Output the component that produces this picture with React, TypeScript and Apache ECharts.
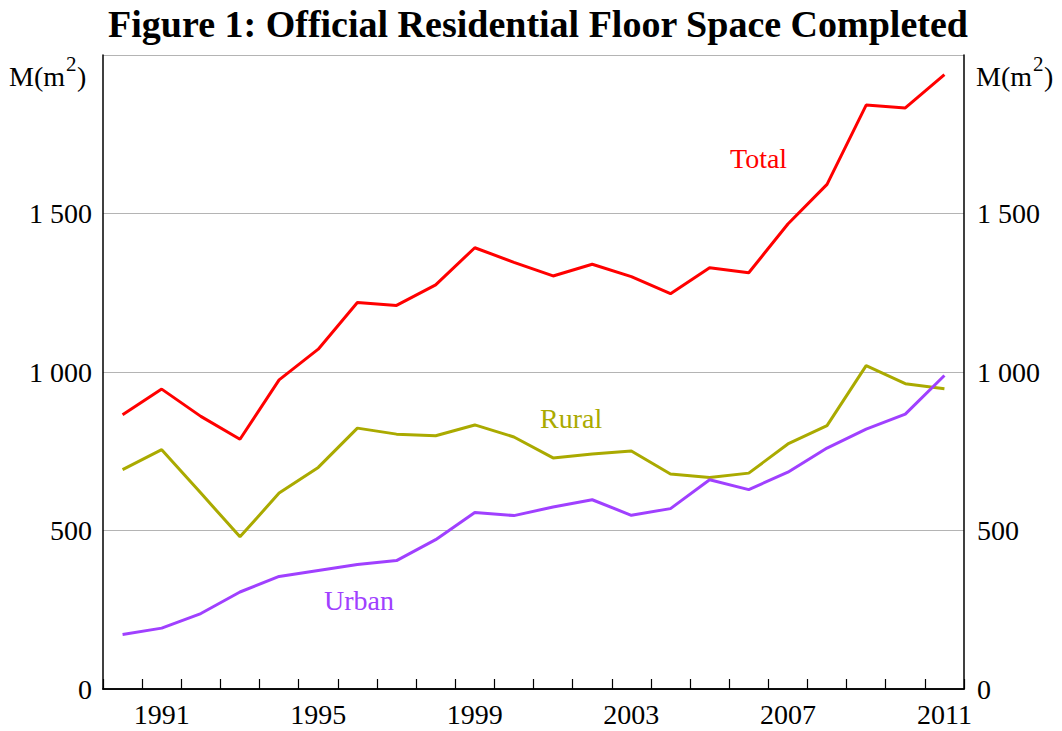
import React, { useEffect, useRef } from "react";
import * as echarts from "echarts";

const years = [
  "1990", "1991", "1992", "1993", "1994", "1995", "1996", "1997", "1998", "1999", "2000",
  "2001", "2002", "2003", "2004", "2005", "2006", "2007", "2008", "2009", "2010", "2011",
];
const total = [865, 946, 860, 788, 975, 1072, 1219, 1210, 1275, 1392, 1346, 1303, 1340, 1301, 1247, 1329, 1313, 1467, 1592, 1842, 1833, 1938];
const rural = [692, 755, 618, 480, 618, 699, 823, 804, 799, 833, 795, 729, 741, 751, 678, 667, 681, 773, 831, 1020, 963, 947];
const urban = [172, 192, 238, 306, 355, 374, 393, 405, 471, 557, 547, 574, 597, 548, 569, 660, 629, 684, 760, 820, 867, 989];

const FONT = "'Liberation Serif', 'Times New Roman', serif";

const fmt = (v: number) => {
  const s = String(Math.round(v));
  return s.length > 3 ? s.slice(0, s.length - 3) + " " + s.slice(-3) : s;
};

const unitTexts = (x0: number) => [
  { type: "text", x: x0, y: 76, style: { text: "M(m", fontFamily: FONT, fontSize: 28, fill: "#000", align: "left", verticalAlign: "middle" } },
  { type: "text", x: x0 + 57, y: 64, style: { text: "2", fontFamily: FONT, fontSize: 21, fill: "#000", align: "left", verticalAlign: "middle" } },
  { type: "text", x: x0 + 68, y: 76, style: { text: ")", fontFamily: FONT, fontSize: 28, fill: "#000", align: "left", verticalAlign: "middle" } },
];

export default function App() {
  const ref = useRef<HTMLDivElement>(null);
  useEffect(() => {
    if (!ref.current) return;
    const chart = echarts.init(ref.current, undefined, { renderer: "svg" });
    chart.setOption({
      animation: false,
      backgroundColor: "#fff",
      title: {
        text: "Figure 1: Official Residential Floor Space Completed",
        left: 533,
        textAlign: "center",
        top: 0,
        textStyle: { fontFamily: FONT, fontSize: 38, fontWeight: "bold", color: "#000" },
      },
      grid: { left: 103, right: 98, top: 55, bottom: 42, containLabel: false },
      xAxis: [
        {
          type: "category",
          data: years,
          boundaryGap: true,
          axisLine: { show: true, lineStyle: { color: "#000", width: 1.5 } },
          axisTick: { show: true, inside: true, length: 10, interval: 0, lineStyle: { color: "#000", width: 1.2 } },
          axisLabel: {
            interval: (index: number) => (index - 1) % 4 === 0,
            fontFamily: FONT,
            fontSize: 28,
            color: "#000",
            margin: 11,
          },
          splitLine: { show: false },
        },
        {
          type: "category",
          data: years,
          position: "top",
          boundaryGap: true,
          axisLine: { show: true, lineStyle: { color: "#000", width: 1.5 } },
          axisTick: { show: false },
          axisLabel: { show: false },
        },
      ],
      yAxis: [
        {
          type: "value",
          min: 0,
          max: 2000,
          interval: 500,
          position: "left",
          axisLine: { show: true, lineStyle: { color: "#000", width: 1.5 } },
          axisTick: { show: false },
          axisLabel: { formatter: (v: number) => (v === 2000 ? "" : fmt(v)), fontFamily: FONT, fontSize: 28, color: "#000", margin: 11 },
          splitLine: { show: true, lineStyle: { color: "#b4b4b4", width: 1.2 } },
        },
        {
          type: "value",
          min: 0,
          max: 2000,
          interval: 500,
          position: "right",
          axisLine: { show: true, lineStyle: { color: "#000", width: 1.5 } },
          axisTick: { show: false },
          axisLabel: { formatter: (v: number) => (v === 2000 ? "" : fmt(v)), fontFamily: FONT, fontSize: 28, color: "#000", margin: 13 },
          splitLine: { show: false },
        },
      ],
      series: [
        {
          name: "Total",
          type: "line",
          data: total,
          symbol: "none",
          lineStyle: { color: "#ff0000", width: 3 },
          itemStyle: { color: "#ff0000" },
        },
        {
          name: "Rural",
          type: "line",
          data: rural,
          symbol: "none",
          lineStyle: { color: "#aaaa00", width: 3 },
          itemStyle: { color: "#aaaa00" },
        },
        {
          name: "Urban",
          type: "line",
          data: urban,
          symbol: "none",
          lineStyle: { color: "#a040ff", width: 3 },
          itemStyle: { color: "#a040ff" },
        },
      ],
      graphic: [
        ...unitTexts(9),
        ...unitTexts(976),
        {
          type: "text",
          x: 730,
          y: 158,
          style: { text: "Total", fontFamily: FONT, fontSize: 28, fill: "#ff0000", align: "left", verticalAlign: "middle" },
        },
        {
          type: "text",
          x: 540,
          y: 418,
          style: { text: "Rural", fontFamily: FONT, fontSize: 28, fill: "#aaaa00", align: "left", verticalAlign: "middle" },
        },
        {
          type: "text",
          x: 324,
          y: 600,
          style: { text: "Urban", fontFamily: FONT, fontSize: 28, fill: "#a040ff", align: "left", verticalAlign: "middle" },
        },
      ],
    });
    return () => chart.dispose();
  }, []);
  return <div ref={ref} style={{ position: "fixed", left: 0, top: 0, width: 1062, height: 731 }} />;
}
